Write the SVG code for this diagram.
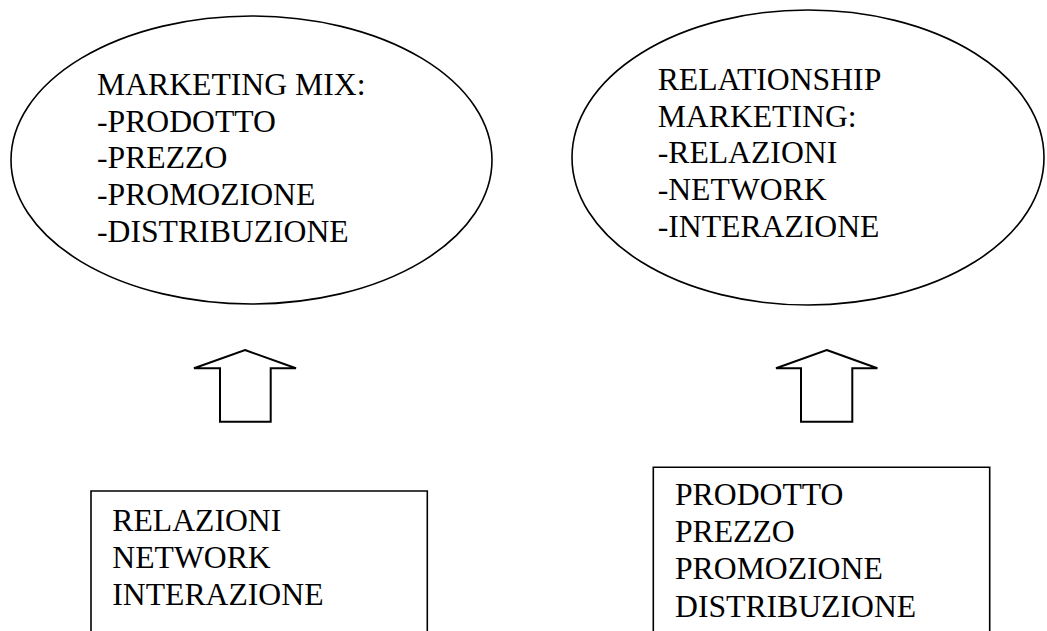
<svg xmlns="http://www.w3.org/2000/svg" width="1047" height="631" viewBox="0 0 1047 631">
<style>
.s{fill:#fff;stroke:#000;stroke-width:1.6}
.a{fill:#fff;stroke:#000;stroke-width:2}
.t{font-family:"Liberation Serif","Times New Roman",serif;font-size:31.7px;fill:#000}
</style>
<rect width="1047" height="631" fill="#fff"/>
<g id="ellipse-mix">
<ellipse class="s" cx="251.5" cy="160" rx="240.5" ry="144"/>
<text class="t" x="97" y="95">MARKETING MIX:</text>
<text class="t" x="97" y="131.7">-PRODOTTO</text>
<text class="t" x="97" y="168.4">-PREZZO</text>
<text class="t" x="97" y="205.1">-PROMOZIONE</text>
<text class="t" x="97" y="241.8">-DISTRIBUZIONE</text>
</g>
<g id="ellipse-relationship">
<ellipse class="s" cx="808" cy="157.5" rx="236" ry="147.5"/>
<text class="t" x="657.7" y="90">RELATIONSHIP</text>
<text class="t" x="657.7" y="126.7">MARKETING:</text>
<text class="t" x="657.7" y="163.4">-RELAZIONI</text>
<text class="t" x="657.7" y="200.1">-NETWORK</text>
<text class="t" x="657.7" y="236.8">-INTERAZIONE</text>
</g>
<g id="connectors">
<polygon class="a" points="245,350 296,368.3 270.7,368.3 270.7,421.7 220,421.7 220,368.3 194,368.3"/>
<polygon class="a" points="826.7,350 877.4,368.3 852.3,368.3 852.3,421.7 801,421.7 801,368.3 776,368.3"/>
</g>
<g id="box-left">
<polyline class="s" points="91,640 91,491 427.3,491 427.3,640"/>
<text class="t" x="112.3" y="531">RELAZIONI</text>
<text class="t" x="112.3" y="567.7">NETWORK</text>
<text class="t" x="112.3" y="605.4">INTERAZIONE</text>
</g>
<g id="box-right">
<polyline class="s" points="653.3,640 653.3,467.3 989.7,467.3 989.7,640"/>
<text class="t" x="675" y="505">PRODOTTO</text>
<text class="t" x="675" y="541.7">PREZZO</text>
<text class="t" x="675" y="579.4">PROMOZIONE</text>
<text class="t" x="675" y="616.7">DISTRIBUZIONE</text>
</g>
</svg>
